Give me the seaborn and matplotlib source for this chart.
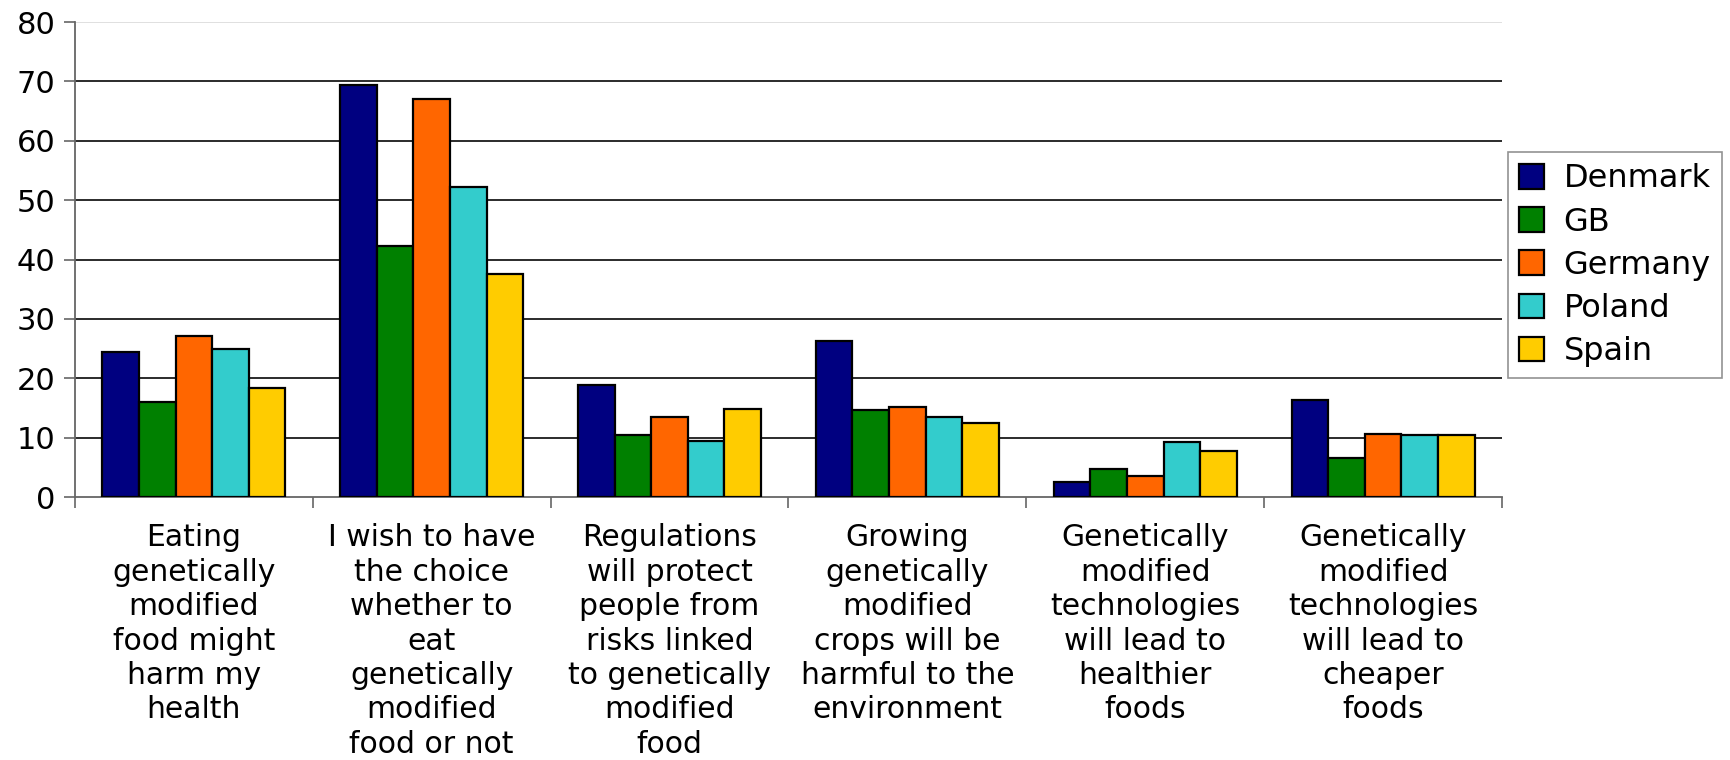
import numpy as np
import pandas as pd
import matplotlib
matplotlib.use("Agg")
import matplotlib.pyplot as plt
import seaborn as sns

categories = [
    "Eating\ngenetically\nmodified\nfood might\nharm my\nhealth",
    "I wish to have\nthe choice\nwhether to\neat\ngenetically\nmodified\nfood or not",
    "Regulations\nwill protect\npeople from\nrisks linked\nto genetically\nmodified\nfood",
    "Growing\ngenetically\nmodified\ncrops will be\nharmful to the\nenvironment",
    "Genetically\nmodified\ntechnologies\nwill lead to\nhealthier\nfoods",
    "Genetically\nmodified\ntechnologies\nwill lead to\ncheaper\nfoods",
]
countries = ["Denmark", "GB", "Germany", "Poland", "Spain"]
denmark = [24.4, 69.4, 18.8, 26.2, 2.6, 16.4]
gb = [16.0, 42.3, 10.4, 14.6, 4.7, 6.5]
germany = [27.1, 67.0, 13.4, 15.2, 3.5, 10.7]
poland = [25.0, 52.3, 9.5, 13.4, 9.2, 10.4]
spain = [18.4, 37.5, 14.9, 12.5, 7.7, 10.4]
colors = ["#000080", "#008000", "#FF6600", "#33CCCC", "#FFCC00"]

series = [denmark, gb, germany, poland, spain]
df = pd.DataFrame({
    "category": np.tile(categories, len(countries)),
    "country": np.repeat(countries, len(categories)),
    "value": np.concatenate(series),
})

sns.set_theme(style="white")
plt.rcParams["font.family"] = ["DejaVu Sans"]
plt.rcParams["text.color"] = "black"
plt.rcParams["xtick.color"] = "black"
plt.rcParams["ytick.color"] = "black"

fig = plt.figure(figsize=(17.31, 7.60), dpi=100)
ax = fig.add_axes([0.0433, 0.346, 0.8244, 0.625])

sns.barplot(data=df, x="category", y="value", hue="country", order=categories,
            hue_order=countries, palette=colors, width=0.77, saturation=1,
            edgecolor="black", linewidth=1.6, errorbar=None, ax=ax, zorder=3)

ax.set_xlim(-0.5, len(categories) - 0.5)
ax.set_ylim(0, 80)
ax.set_yticks(range(0, 81, 10))
ax.set_xlabel("")
ax.set_ylabel("")

# horizontal grid lines
for v in range(10, 80, 10):
    ax.axhline(v, color="#1a1a1a", lw=1.3, zorder=1)
ax.axhline(80, color="#dddddd", lw=1.3, zorder=1)

for s in ["top", "right"]:
    ax.spines[s].set_visible(False)
for s in ["left", "bottom"]:
    ax.spines[s].set_color("#666666")
    ax.spines[s].set_linewidth(1.3)

ax.tick_params(axis="y", which="major", length=8, width=1.2, color="#666666",
               labelcolor="black", labelsize=22, pad=6, left=True)
ax.set_xticks(range(len(categories)))
ax.set_xticklabels(categories, fontsize=21.5, linespacing=1.235, color="black")
ax.tick_params(axis="x", which="major", length=0, pad=19)
ax.set_xticks(np.arange(-0.5, len(categories)), minor=True)
ax.tick_params(axis="x", which="minor", length=8, width=1.2, color="#666666",
               bottom=True)

leg = ax.legend(loc="center left", bbox_to_anchor=(0.871, 0.651),
                bbox_transform=fig.transFigure, frameon=True, fancybox=False,
                fontsize=23, handlelength=0.8, handleheight=0.8,
                handletextpad=0.6, labelspacing=0.38, borderpad=0.35,
                borderaxespad=0)
leg.get_frame().set_edgecolor("#777777")
leg.get_frame().set_linewidth(1.2)
for t in leg.get_texts():
    t.set_color("black")
for h in leg.legend_handles:
    h.set_edgecolor("black")
    h.set_linewidth(1.6)

fig.savefig("out.png", dpi=100)
